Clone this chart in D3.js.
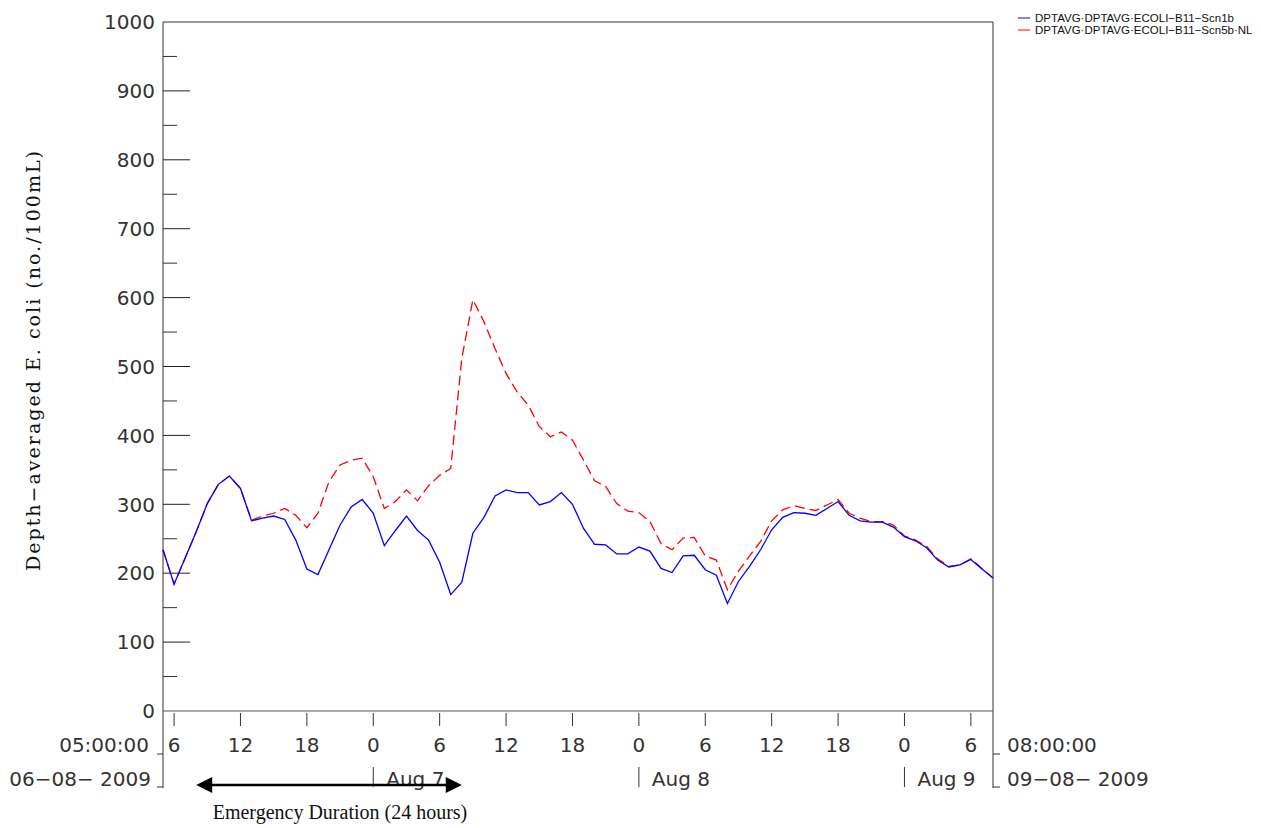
<!DOCTYPE html>
<html lang="en">
<head>
  <meta charset="UTF-8">
  <script src="https://d3js.org/d3.v7.min.js"></script>
  <style>
    body { margin: 0; background: #fff; }
    svg { display: block; }
  </style>
</head>
<body>
  <script>
    const width = 1261;
    const height = 828;

    // hourly values, 05:00 Aug 6 2009 -> 08:00 Aug 9 2009
    const startTime = new Date(2009, 7, 6, 5);
    const endTime = new Date(2009, 7, 9, 8);

    const scn1b = [234, 184, 222, 260, 301, 329, 341, 323, 276, 280, 283, 278, 248, 206, 198, 234,
      270, 296, 307, 287, 240, 262, 283, 262, 248, 216, 169, 187, 258, 281, 312, 321, 317, 317, 299,
      304, 317, 300, 265, 242, 241, 228, 228, 238, 232, 207, 201, 225, 226, 205, 197, 156, 188, 210,
      234, 263, 281, 288, 287, 284, 294, 304, 284, 276, 274, 274, 267, 253, 247, 237, 219, 209, 212,
      220, 206, 193];
    const scn5bNL = [234, 184, 222, 260, 301, 329, 341, 323, 277, 283, 287, 294, 284, 266, 287, 333,
      357, 364, 367, 340, 294, 304, 321, 305, 327, 342, 352, 512, 597, 565, 526, 490, 463, 444, 413,
      398, 405, 393, 364, 334, 326, 301, 290, 288, 275, 243, 234, 251, 252, 225, 219, 176, 203, 225,
      246, 276, 292, 298, 294, 291, 299, 307, 287, 280, 275, 275, 270, 254, 248, 239, 221, 210, 212,
      221, 207, 193];

    const seriesNames = ["DPTAVG\u00b7DPTAVG\u00b7ECOLI\u2212B11\u2212Scn1b", "DPTAVG\u00b7DPTAVG\u00b7ECOLI\u2212B11\u2212Scn5b\u00b7NL"];
    const seriesColors = ["#0000ff", "#ff0000"];
    const yTicks = [0, 100, 200, 300, 400, 500, 600, 700, 800, 900, 1000];
    const dayLabels = ["Aug 7", "Aug 8", "Aug 9"];
    const emergency = [new Date(2009, 7, 6, 8), new Date(2009, 7, 7, 8)];

    const plotLeft = 163, plotRight = 993, plotTop = 22, plotBottom = 711;
    const sans = "'DejaVu Sans', Verdana, sans-serif";
    const serif = "'DejaVu Serif', 'Liberation Serif', serif";

    const svg = d3.select("body").append("svg")
      .attr("width", width)
      .attr("height", height);

    const x = d3.scaleTime().domain([startTime, endTime]).range([plotLeft, plotRight]);
    const y = d3.scaleLinear().domain([0, 1000]).range([plotBottom, plotTop]);
    const hourOf = i => d3.timeHour.offset(startTime, i);

    // frame
    svg.append("line").attr("x1", plotLeft).attr("x2", plotRight).attr("y1", plotTop).attr("y2", plotTop).attr("stroke", "#333");
    svg.append("line").attr("x1", plotRight).attr("x2", plotRight).attr("y1", plotTop).attr("y2", 788).attr("stroke", "#333");
    svg.append("line").attr("x1", plotLeft).attr("x2", plotLeft).attr("y1", plotTop).attr("y2", 788).attr("stroke", "#333");
    svg.append("line").attr("x1", plotLeft).attr("x2", plotRight).attr("y1", plotBottom).attr("y2", plotBottom).attr("stroke", "#555");

    // y axis ticks
    const minor = d3.range(50, 1000, 100);
    svg.append("g").selectAll("line").data(minor).join("line")
      .attr("x1", plotLeft).attr("x2", plotLeft + 14)
      .attr("y1", d => y(d)).attr("y2", d => y(d))
      .attr("stroke", "#333");
    svg.append("g").selectAll("line").data(yTicks.slice(1, -1)).join("line")
      .attr("x1", plotLeft).attr("x2", plotLeft + 27)
      .attr("y1", d => y(d)).attr("y2", d => y(d))
      .attr("stroke", "#222");
    svg.append("g").selectAll("text").data(yTicks).join("text")
      .attr("x", 155).attr("y", d => y(d)).attr("dy", "0.36em")
      .attr("text-anchor", "end")
      .attr("font-family", sans).attr("font-size", 20).attr("fill", "#333")
      .text(d => d);

    svg.append("text")
      .attr("transform", "translate(40,361) rotate(-90)")
      .attr("text-anchor", "middle")
      .attr("font-family", serif).attr("font-size", 19).attr("fill", "#111")
      .attr("textLength", 420).attr("lengthAdjust", "spacing")
      .text("Depth\u2212averaged E. coli (no./100mL)");

    // x axis: hour ticks
    const hourTicks = x.ticks(d3.timeHour.every(6)).filter(d => d > startTime && d < endTime);
    svg.append("g").selectAll("line").data(hourTicks).join("line")
      .attr("x1", d => x(d)).attr("x2", d => x(d))
      .attr("y1", plotBottom + 2).attr("y2", plotBottom + 15)
      .attr("stroke", "#333");
    svg.append("g").selectAll("text").data(hourTicks).join("text")
      .attr("x", d => x(d)).attr("y", 752)
      .attr("text-anchor", "middle")
      .attr("font-family", sans).attr("font-size", 20).attr("fill", "#333")
      .text(d => d.getHours());

    // day ticks
    const dayTicks = d3.timeDay.range(d3.timeDay.offset(d3.timeDay.floor(startTime), 1), endTime);
    svg.append("g").selectAll("line").data(dayTicks).join("line")
      .attr("x1", d => x(d)).attr("x2", d => x(d))
      .attr("y1", 767).attr("y2", 787)
      .attr("stroke", "#333");
    svg.append("g").selectAll("text").data(dayTicks).join("text")
      .attr("x", d => x(d) + 13).attr("y", 786)
      .attr("font-family", sans).attr("font-size", 20).attr("fill", "#333")
      .text((d, i) => dayLabels[i]);

    // start / end stamps
    const stamps = [
      { x: 149, y: 752, anchor: "end", text: "05:00:00" },
      { x: 151, y: 786, anchor: "end", text: "06\u221208\u2212 2009" },
      { x: 1007, y: 752, anchor: "start", text: "08:00:00" },
      { x: 1007, y: 786, anchor: "start", text: "09\u221208\u2212 2009" }
    ];
    svg.append("g").selectAll("text").data(stamps).join("text")
      .attr("x", d => d.x).attr("y", d => d.y)
      .attr("text-anchor", d => d.anchor)
      .attr("font-family", sans).attr("font-size", 20).attr("fill", "#333")
      .text(d => d.text);
    [[plotLeft - 6, plotLeft, 754], [plotLeft - 6, plotLeft, 787], [plotRight, plotRight + 7, 754], [plotRight, plotRight + 7, 787]].forEach(s => {
      svg.append("line").attr("x1", s[0]).attr("x2", s[1]).attr("y1", s[2]).attr("y2", s[2]).attr("stroke", "#333");
    });

    // series
    const line = d3.line().x((d, i) => x(hourOf(i))).y(d => y(d));
    svg.append("path").datum(scn5bNL)
      .attr("d", line).attr("fill", "none")
      .attr("stroke", seriesColors[1]).attr("stroke-width", 1.3)
      .attr("stroke-dasharray", "10,5");
    svg.append("path").datum(scn1b)
      .attr("d", line).attr("fill", "none")
      .attr("stroke", seriesColors[0]).attr("stroke-width", 1.3);

    // legend
    const legend = svg.append("g").selectAll("g").data(seriesNames).join("g")
      .attr("transform", (d, i) => `translate(1018,${18 + i * 12})`);
    legend.append("line").attr("x1", 0).attr("x2", 12)
      .attr("stroke", (d, i) => seriesColors[i]).attr("stroke-width", 1);
    legend.append("text").attr("x", 17).attr("y", 4)
      .attr("font-family", "'Liberation Sans', Arial, sans-serif").attr("font-size", 11.5).attr("fill", "#111")
      .text(d => d);

    // emergency duration arrow
    const ay = 785;
    svg.append("line")
      .attr("x1", x(emergency[0]) + 14).attr("x2", x(emergency[1]) - 14)
      .attr("y1", ay).attr("y2", ay)
      .attr("stroke", "#000").attr("stroke-width", 2.5);
    svg.append("path")
      .attr("d", `M${x(emergency[0])},${ay} l16,-8 v16 Z M${x(emergency[1])},${ay} l-16,-8 v16 Z`)
      .attr("fill", "#000");
    svg.append("text")
      .attr("x", 340).attr("y", 819)
      .attr("text-anchor", "middle")
      .attr("font-family", "'Liberation Serif', 'Times New Roman', serif").attr("font-size", 20).attr("fill", "#111")
      .text("Emergency Duration (24 hours)");
  </script>
</body>
</html>
